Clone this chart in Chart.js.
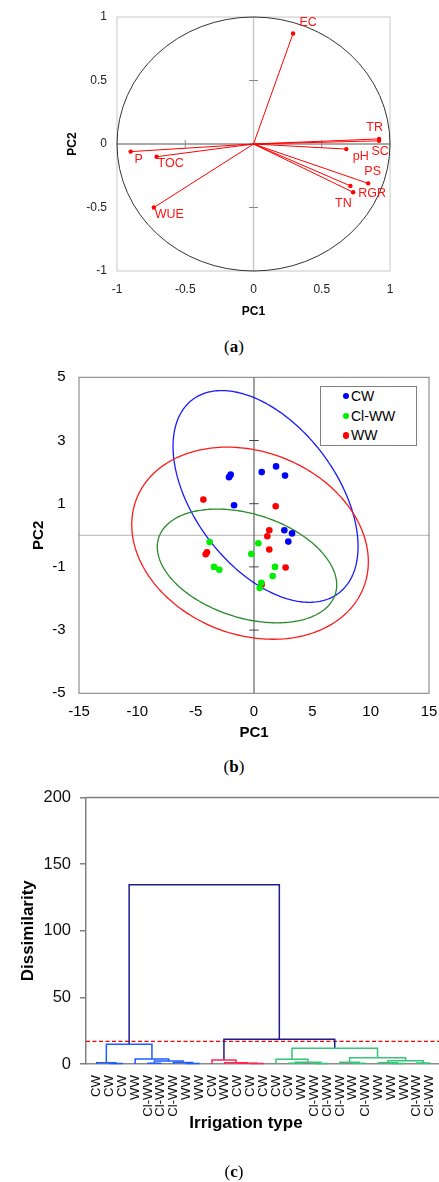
<!DOCTYPE html>
<html>
<head>
<meta charset="utf-8">
<script src="https://cdn.jsdelivr.net/npm/chart.js@4/dist/chart.umd.min.js"></script>
<style>
  html, body { margin: 0; padding: 0; background: #fff; }
  body { width: 439px; height: 1182px; position: relative; overflow: hidden;
         font-family: "Liberation Sans", Arial, sans-serif; }
  canvas { position: absolute; left: 0; }
  .cap { position: absolute; left: 184px; width: 100px; text-align: center;
         font-family: "Liberation Serif", "Times New Roman", serif; font-size: 17px;
         line-height: 20px; color: #000; }
  .legend { position: absolute; left: 320px; top: 385.7px; width: 97px; height: 60px;
            box-sizing: border-box; border: 1.5px solid #808080; background: #fff; }
  .legend .row { position: absolute; left: 0; height: 16px; line-height: 16px;
                 font-size: 14px; color: #000; white-space: nowrap; }
  .legend .dot { position: absolute; left: 21.5px; top: 4.8px; width: 6.5px; height: 6.5px;
                 border-radius: 50%; }
  .legend .txt { position: absolute; left: 30px; top: 0; }
  .xtitle { position: absolute; left: 146px; width: 200px; text-align: center;
            font-weight: bold; font-size: 17px; line-height: 20px; top: 1113px; color: #000; }
</style>
</head>
<body>
<canvas id="pcaLoadings" width="439" height="330" style="top:0px"></canvas>
<div class="cap" style="top:337px">(<b>a</b>)</div>
<canvas id="pcaScores" width="439" height="400" style="top:350px"></canvas>
<div class="legend" id="scoreLegend"></div>
<div class="cap" style="top:757px">(<b>b</b>)</div>
<canvas id="dendro" width="439" height="370" style="top:780px"></canvas>
<div class="xtitle">Irrigation type</div>
<div class="cap" style="top:1162px">(<b>c</b>)</div>

<script>
// ---------- (a) correlation circle: variable loadings on PC1 / PC2 ----------
const loadingNames = ['EC', 'TR', 'SC', 'pH', 'PS', 'RGR', 'TN', 'P', 'TOC', 'WUE'];
const loadingPC1   = [0.29, 0.92, 0.92, 0.68, 0.84, 0.73, 0.71, -0.90, -0.71, -0.73];
const loadingPC2   = [0.87, 0.04, 0.025, -0.04, -0.31, -0.38, -0.33, -0.06, -0.10, -0.50];
const ticksA       = [-1, -0.5, 0, 0.5, 1];

// ---------- (b) sample scores on PC1 / PC2 ----------
const groupNames = ['CW', 'Cl-WW', 'WW'];
const cwPC1   = [-2.14, -2.0, 0.66, 1.89, 2.66, -1.71, 2.6, 3.26, 2.94];
const cwPC2   = [1.84, 1.92, 2.0, 2.18, 1.89, 0.95, 0.16, 0.06, -0.2];
const clwwPC1 = [-3.8, 0.37, -0.23, -3.43, -2.97, 1.8, 1.6, 0.63, 0.49];
const clwwPC2 = [-0.21, -0.25, -0.59, -1.0, -1.09, -1.0, -1.29, -1.5, -1.67];
const wwPC1   = [-4.34, 1.86, 1.31, 1.14, 1.31, -4.03, -4.14, 2.71, 0.66];
const wwPC2   = [1.13, 0.92, 0.16, -0.03, -0.45, -0.54, -0.6, -1.02, -1.56];
// confidence ellipses (CW, Cl-WW, WW): centre, half extent along each axis, correlation
const ellipseCenterPC1 = [0.99, -0.6, -0.34];
const ellipseCenterPC2 = [1.23, -0.97, -0.25];
const ellipseHalfPC1   = [7.93, 7.69, 10.14];
const ellipseHalfPC2   = [3.35, 1.80, 3.04];
const ellipseCorr      = [-0.473, -0.334, -0.193];
const ticksBx = [-15, -10, -5, 0, 5, 10, 15];
const ticksBy = [-5, -3, -1, 1, 3, 5];

// ---------- (c) hierarchical clustering ----------
const leafLabels = ['CW', 'CW', 'CW', 'WW', 'Cl-WW', 'Cl-WW', 'Cl-WW', 'WW', 'WW',
                    'CW', 'WW', 'CW', 'CW', 'CW', 'CW', 'CW', 'WW', 'Cl-WW', 'Cl-WW',
                    'Cl-WW', 'WW', 'Cl-WW', 'WW', 'WW', 'WW', 'Cl-WW', 'Cl-WW'];
// merge k joins nodes mergeA[k] and mergeB[k] (ids >= 27 are earlier merges)
const mergeA      = [1, 0, 4, 7, 6, 29, 3, 28, 12, 11, 10, 9, 15, 17, 39, 14, 20, 19, 23, 22, 25, 46, 44, 42, 38, 34];
const mergeB      = [2, 27, 5, 8, 30, 31, 32, 33, 13, 35, 36, 37, 16, 18, 40, 41, 21, 43, 24, 45, 26, 47, 48, 49, 50, 51];
const mergeHeight = [0.4, 0.9, 0.6, 0.3, 1.2, 2.2, 3.7, 14.8, 0.3, 0.6, 1.0, 3.0, 0.5, 0.4, 1.4, 3.5,
                     0.5, 1.3, 0.4, 1.0, 0.8, 2.5, 4.7, 11.8, 18.5, 134.5];
const mergeGroup  = [0, 0, 0, 0, 0, 0, 0, 0, 1, 1, 1, 1, 2, 2, 2, 2, 2, 2, 2, 2, 2, 2, 2, 2, 3, 3];
const truncationLevel = 17;
const ticksCy = [0, 50, 100, 150, 200];

// ---------- styling ----------
Chart.defaults.font.family = '"Liberation Sans", Arial, sans-serif';
Chart.defaults.color = '#000';
const pointColors   = ['#0000ff', '#00ee00', '#ff0000'];
const ellipseColors = ['#1a1aff', '#2a8a2a', '#ff1a1a'];
const clusterColors = ['#1f5cff', '#ff2652', '#36c67a', '#1c1c8c'];
// pixel nudges that place each loading label beside its point
const loadingLabelNudge = [[15, -11], [-4.5, -11], [1, 11], [14.5, 7.5], [4.5, -12],
                           [19, 1], [-7, 18], [8, 8], [14, 7], [15.5, 7.5]];

function fixedBox(size, horizontal) {
  return s => {
    if (horizontal) s.height = size; else s.width = size;
    s.paddingLeft = 0; s.paddingRight = 0; s.paddingTop = 0; s.paddingBottom = 0;
  };
}
function setTicks(values) { return s => { s.ticks = values.map(v => ({ value: v })); }; }
function line(ctx, x1, y1, x2, y2) { ctx.beginPath(); ctx.moveTo(x1, y1); ctx.lineTo(x2, y2); ctx.stroke(); }

// ================= (a) =================
const frameA = {
  id: 'frameA',
  beforeDatasetsDraw(chart) {
    const { ctx, chartArea: a, scales: { x, y } } = chart;
    const x0 = x.getPixelForValue(0), y0 = y.getPixelForValue(0);
    ctx.save();
    ctx.lineWidth = 1;
    ctx.strokeStyle = '#c8c8c8';
    ctx.strokeRect(a.left, a.top, a.right - a.left, a.bottom - a.top);
    ctx.lineWidth = 1.3; ctx.strokeStyle = '#c4c4c4';
    line(ctx, x0, a.top, x0, a.bottom);
    ctx.lineWidth = 1; ctx.strokeStyle = '#555';
    line(ctx, a.left, y0, a.right, y0);
    ctx.strokeStyle = '#888';
    [-0.5, 0.5].forEach(v => {
      const px = x.getPixelForValue(v), py = y.getPixelForValue(v);
      line(ctx, px, y0 - 4, px, y0 + 4);
      line(ctx, x0 - 4.5, py, x0 + 4.5, py);
    });
    ctx.strokeStyle = '#333'; ctx.lineWidth = 1;
    ctx.beginPath();
    ctx.ellipse(x0, y0, x.getPixelForValue(1) - x0, y0 - y.getPixelForValue(1), 0, 0, Math.PI * 2);
    ctx.stroke();
    ctx.restore();
  },
  afterDatasetsDraw(chart) {
    const { ctx, scales: { x, y } } = chart;
    ctx.save();
    ctx.font = '12.5px "Liberation Sans", Arial, sans-serif';
    ctx.fillStyle = '#ff1414';
    ctx.textAlign = 'center'; ctx.textBaseline = 'middle';
    loadingNames.forEach((n, i) => {
      const px = x.getPixelForValue(loadingPC1[i]), py = y.getPixelForValue(loadingPC2[i]);
      ctx.fillText(n, px + loadingLabelNudge[i][0], py + loadingLabelNudge[i][1]);
    });
    ctx.restore();
  }
};

new Chart(document.getElementById('pcaLoadings'), {
  type: 'scatter',
  data: {
    datasets: loadingNames.map((n, i) => ({
      label: n,
      data: [{ x: 0, y: 0 }, { x: loadingPC1[i], y: loadingPC2[i] }],
      showLine: true, borderColor: '#ff0000', backgroundColor: '#ff0000', borderWidth: 1,
      pointRadius: [0, 2.2], pointBorderWidth: 0, pointHoverRadius: 0
    }))
  },
  options: {
    responsive: false, animation: false, devicePixelRatio: 1,
    layout: { padding: { left: 0, right: 49, top: 17, bottom: 0 } },
    plugins: { legend: { display: false }, tooltip: { enabled: false } },
    events: [],
    scales: {
      x: {
        type: 'linear', min: -1, max: 1,
        grid: { display: false, drawTicks: false }, border: { display: false },
        afterBuildTicks: setTicks(ticksA), afterFit: fixedBox(59, true),
        ticks: { padding: 11, font: { size: 12 }, color: '#222', callback: v => String(v) },
        title: { display: true, text: 'PC1', font: { size: 12, weight: 'bold' }, padding: { top: 0, bottom: 10.8 } }
      },
      y: {
        type: 'linear', min: -1, max: 1,
        grid: { display: false, drawTicks: false }, border: { display: false },
        afterBuildTicks: setTicks(ticksA), afterFit: fixedBox(117, false),
        ticks: { padding: 10, font: { size: 12 }, color: '#222', callback: v => String(v) },
        title: { display: true, text: 'PC2', font: { size: 12, weight: 'bold' }, padding: { top: 65.8, bottom: 0 } }
      }
    }
  },
  plugins: [frameA]
});

// ================= (b) =================
const frameB = {
  id: 'frameB',
  beforeDatasetsDraw(chart) {
    const { ctx, chartArea: a, scales: { x, y } } = chart;
    const x0 = x.getPixelForValue(0), y0 = y.getPixelForValue(0);
    ctx.save();
    ctx.lineWidth = 1;
    ctx.strokeStyle = '#b4b4b4';
    line(ctx, a.left, y0, a.right, y0);
    ctx.strokeStyle = '#444';
    line(ctx, x0, a.top, x0, a.bottom);
    ticksBy.filter(v => Math.abs(v) < 5).forEach(v => {
      const py = y.getPixelForValue(v);
      line(ctx, x0 - 4.7, py, x0 + 4.7, py);
    });
    ctx.strokeStyle = '#7a7a7a';
    ctx.strokeRect(a.left, a.top, a.right - a.left, a.bottom - a.top);
    // confidence ellipses drawn in data space through the chart scales
    ctx.lineWidth = 1.3;
    groupNames.forEach((g, i) => {
      const r = ellipseCorr[i], q = Math.sqrt(1 - r * r);
      ctx.beginPath();
      for (let k = 0; k <= 240; k++) {
        const t = k / 240 * Math.PI * 2;
        const dx = ellipseHalfPC1[i] * Math.cos(t);
        const dy = ellipseHalfPC2[i] * (r * Math.cos(t) + q * Math.sin(t));
        const px = x.getPixelForValue(ellipseCenterPC1[i] + dx);
        const py = y.getPixelForValue(ellipseCenterPC2[i] + dy);
        if (k === 0) ctx.moveTo(px, py); else ctx.lineTo(px, py);
      }
      ctx.closePath();
      ctx.strokeStyle = ellipseColors[i];
      ctx.stroke();
    });
    ctx.restore();
  }
};

const scoreSeries = [[cwPC1, cwPC2], [clwwPC1, clwwPC2], [wwPC1, wwPC2]];
new Chart(document.getElementById('pcaScores'), {
  type: 'scatter',
  data: {
    datasets: groupNames.map((g, i) => ({
      label: g,
      data: scoreSeries[i][0].map((v, k) => ({ x: v, y: scoreSeries[i][1][k] })),
      backgroundColor: pointColors[i], borderWidth: 0, pointRadius: 3.3, pointHoverRadius: 3.3
    }))
  },
  options: {
    responsive: false, animation: false, devicePixelRatio: 1,
    layout: { padding: { left: 0, right: 10, top: 27.3, bottom: 0 } },
    plugins: { legend: { display: false }, tooltip: { enabled: false } },
    events: [],
    scales: {
      x: {
        type: 'linear', min: -15, max: 15,
        grid: { display: false, drawTicks: false }, border: { display: false },
        afterBuildTicks: setTicks(ticksBx), afterFit: fixedBox(56.7, true),
        ticks: { padding: 10, font: { size: 15 }, callback: v => String(v) },
        title: { display: true, text: 'PC1', font: { size: 15, weight: 'bold' }, padding: { top: 0, bottom: 8 } }
      },
      y: {
        type: 'linear', min: -5, max: 5,
        grid: { display: false, drawTicks: false }, border: { display: false },
        afterBuildTicks: setTicks(ticksBy), afterFit: fixedBox(79, false),
        ticks: { padding: 13.5, font: { size: 15 }, callback: v => String(v) },
        title: { display: true, text: 'PC2', font: { size: 15, weight: 'bold' }, padding: { top: 30, bottom: 0 } }
      }
    }
  },
  plugins: [frameB]
});

// legend for (b)
const legendBox = document.getElementById('scoreLegend');
groupNames.forEach((g, i) => {
  const row = document.createElement('div');
  row.className = 'row';
  row.style.top = [1.5, 21.5, 40.8][i] + 'px';
  row.innerHTML = '<span class="dot" style="background:' + pointColors[i] + '"></span><span class="txt">' + g + '</span>';
  legendBox.appendChild(row);
});

// ================= (c) =================
const xMinC = -0.84, xMaxC = 26.74;
const nodeX = leafLabels.map((_, i) => i);
const nodeH = leafLabels.map(() => 0);
const linkSets = mergeA.map((a, k) => {
  const b = mergeB[k], h = mergeHeight[k];
  const pts = [
    { x: nodeX[a], y: nodeH[a] }, { x: nodeX[a], y: h },
    { x: nodeX[b], y: h }, { x: nodeX[b], y: nodeH[b] }
  ];
  nodeX.push((nodeX[a] + nodeX[b]) / 2);
  nodeH.push(h);
  return {
    data: pts, showLine: true, borderColor: clusterColors[mergeGroup[k]],
    borderWidth: 1.5, pointRadius: 0, pointHoverRadius: 0, clip: false
  };
});
linkSets.push({
  data: [{ x: xMinC, y: truncationLevel }, { x: xMaxC, y: truncationLevel }],
  showLine: true, borderColor: '#ff0000', borderWidth: 1.3, borderDash: [4, 2.5],
  pointRadius: 0, pointHoverRadius: 0
});

const frameC = {
  id: 'frameC',
  beforeDatasetsDraw(chart) {
    const { ctx, chartArea: a } = chart;
    ctx.save();
    ctx.strokeStyle = '#808080'; ctx.lineWidth = 1.5;
    line(ctx, a.left, a.top, a.right, a.top);
    ctx.restore();
  }
};

new Chart(document.getElementById('dendro'), {
  type: 'scatter',
  data: { datasets: linkSets },
  options: {
    responsive: false, animation: false, devicePixelRatio: 1,
    layout: { padding: { left: 0, right: 0, top: 17.5, bottom: 0 } },
    plugins: { legend: { display: false }, tooltip: { enabled: false } },
    events: [],
    scales: {
      x: {
        type: 'linear', min: xMinC, max: xMaxC,
        grid: { display: false, drawTicks: false },
        border: { display: true, color: '#8a8a8a', width: 1.5 },
        afterBuildTicks: setTicks(leafLabels.map((_, i) => i)), afterFit: fixedBox(86, true),
        ticks: { autoSkip: false, minRotation: 90, maxRotation: 90, padding: 11,
                 font: { size: 13.2 }, color: '#111', callback: v => leafLabels[Math.round(v)] }
      },
      y: {
        type: 'linear', min: 0, max: 200,
        grid: { drawOnChartArea: false, drawTicks: true, tickLength: 6, color: '#808080', lineWidth: 1.5 },
        border: { display: true, color: '#808080', width: 1.5 },
        afterBuildTicks: setTicks(ticksCy), afterFit: fixedBox(86, false),
        ticks: { padding: 9, font: { size: 16.5 }, color: '#111', callback: v => String(v) },
        title: { display: true, text: 'Dissimilarity', font: { size: 17, weight: 'bold' }, padding: { top: 18, bottom: 0 } }
      }
    }
  },
  plugins: [frameC]
});
</script>
</body>
</html>
